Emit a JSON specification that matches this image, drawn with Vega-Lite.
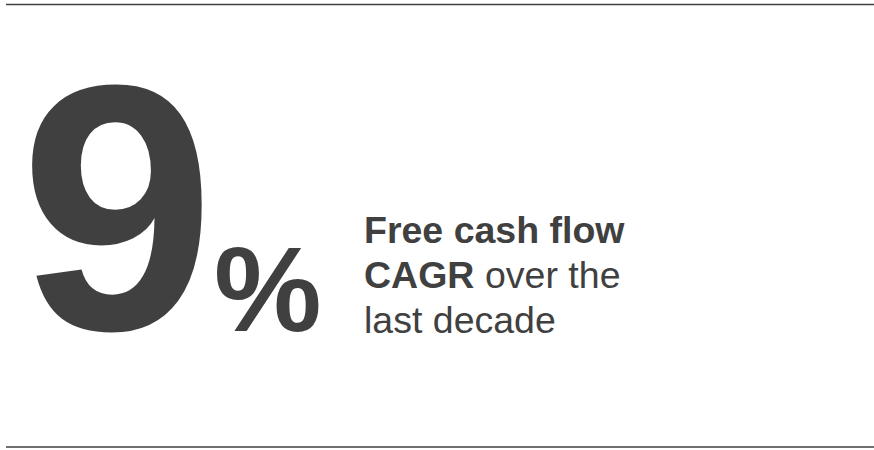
{
  "$schema": "https://vega.github.io/schema/vega-lite/v6.json",
  "width": 874,
  "height": 450,
  "autosize": {"type": "fit", "contains": "padding"},
  "padding": 0,
  "background": "white",
  "view": {"stroke": null},
  "config": {"text": {"font": "Liberation Sans", "color": "#404040", "align": "left", "baseline": "alphabetic"}},
  "data": {
    "values": [
      {"value": "9", "unit": "%", "line1": "Free cash flow", "line2_bold": "CAGR", "line2_rest": "over the", "line3": "last decade"}
    ]
  },
  "layer": [
    {"mark": {"type": "rule", "stroke": "#404040", "strokeWidth": 1.5}, "encoding": {"x": {"value": 6}, "x2": {"value": 874}, "y": {"value": 4.5}}},
    {"mark": {"type": "rule", "stroke": "#404040", "strokeWidth": 1.5}, "encoding": {"x": {"value": 6}, "x2": {"value": 874}, "y": {"value": 447}}},
    {"mark": {"type": "text", "x": 20, "y": 329, "fontSize": 350, "fontWeight": "bold"}, "encoding": {"text": {"field": "value"}}},
    {"mark": {"type": "text", "x": 214, "y": 331, "fontSize": 121, "fontWeight": "bold"}, "encoding": {"text": {"field": "unit"}}},
    {"mark": {"type": "text", "x": 364, "y": 243, "fontSize": 37.5, "fontWeight": "bold"}, "encoding": {"text": {"field": "line1"}}},
    {"mark": {"type": "text", "x": 364, "y": 288, "fontSize": 37.5, "fontWeight": "bold"}, "encoding": {"text": {"field": "line2_bold"}}},
    {"mark": {"type": "text", "x": 485, "y": 288, "fontSize": 37.5}, "encoding": {"text": {"field": "line2_rest"}}},
    {"mark": {"type": "text", "x": 364, "y": 333, "fontSize": 37.5}, "encoding": {"text": {"field": "line3"}}}
  ]
}
